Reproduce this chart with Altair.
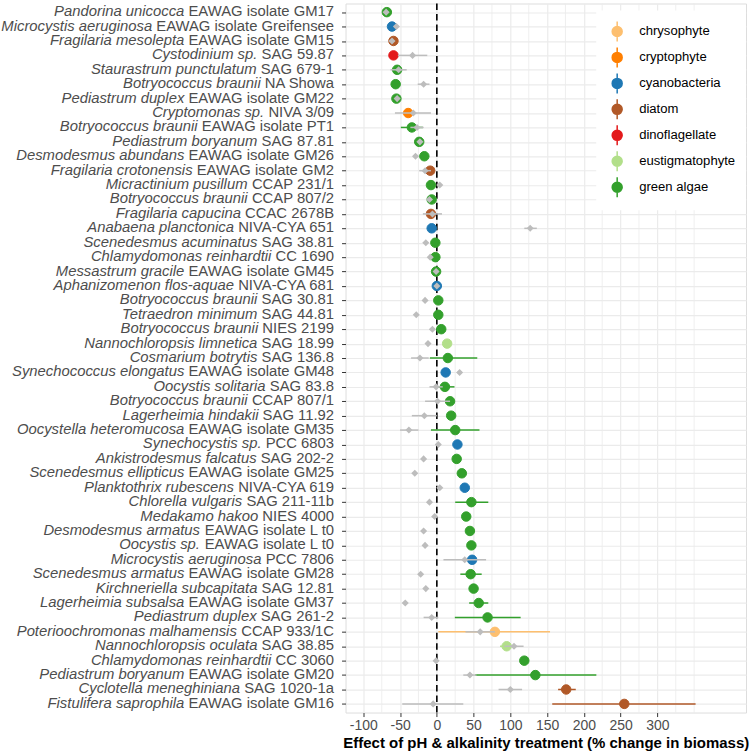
import altair as alt
import pandas as pd

# Strain names: italic species part + strain/collection identifier
species = [
    "Pandorina unicocca", "Microcystis aeruginosa", "Fragilaria mesolepta", "Cystodinium sp.",
    "Staurastrum punctulatum", "Botryococcus braunii", "Pediastrum duplex", "Cryptomonas sp.",
    "Botryococcus braunii", "Pediastrum boryanum", "Desmodesmus abundans", "Fragilaria crotonensis",
    "Micractinium pusillum", "Botryococcus braunii", "Fragilaria capucina", "Anabaena planctonica",
    "Scenedesmus acuminatus", "Chlamydomonas reinhardtii", "Messastrum gracile", "Aphanizomenon flos-aquae",
    "Botryococcus braunii", "Tetraedron minimum", "Botryococcus braunii", "Nannochloropsis limnetica",
    "Cosmarium botrytis", "Synechococcus elongatus", "Oocystis solitaria", "Botryococcus braunii",
    "Lagerheimia hindakii", "Oocystella heteromucosa", "Synechocystis sp.", "Ankistrodesmus falcatus",
    "Scenedesmus ellipticus", "Planktothrix rubescens", "Chlorella vulgaris", "Medakamo hakoo",
    "Desmodesmus armatus", "Oocystis sp.", "Microcystis aeruginosa", "Scenedesmus armatus",
    "Kirchneriella subcapitata", "Lagerheimia subsalsa", "Pediastrum duplex", "Poterioochromonas malhamensis",
    "Nannochloropsis oculata", "Chlamydomonas reinhardtii", "Pediastrum boryanum", "Cyclotella meneghiniana",
    "Fistulifera saprophila",
]
strains = [
    "EAWAG isolate GM17", "EAWAG isolate Greifensee", "EAWAG isolate GM15", "SAG 59.87",
    "SAG 679-1", "NA Showa", "EAWAG isolate GM22", "NIVA 3/09",
    "EAWAG isolate PT1", "SAG 87.81", "EAWAG isolate GM26", "EAWAG isolate GM2",
    "CCAP 231/1", "CCAP 807/2", "CCAC 2678B", "NIVA-CYA 651",
    "SAG 38.81", "CC 1690", "EAWAG isolate GM45", "NIVA-CYA 681",
    "SAG 30.81", "SAG 44.81", "NIES 2199", "SAG 18.99",
    "SAG 136.8", "EAWAG isolate GM48", "SAG 83.8", "CCAP 807/1",
    "SAG 11.92", "EAWAG isolate GM35", "PCC 6803", "SAG 202-2",
    "EAWAG isolate GM25", "NIVA-CYA 619", "SAG 211-11b", "NIES 4000",
    "EAWAG isolate L t0", "EAWAG isolate L t0", "PCC 7806", "EAWAG isolate GM28",
    "SAG 12.81", "EAWAG isolate GM37", "SAG 261-2", "CCAP 933/1C",
    "SAG 38.85", "CC 3060", "EAWAG isolate GM20", "SAG 1020-1a",
    "EAWAG isolate GM16",
]
groups = [
    "green algae", "cyanobacteria", "diatom", "dinoflagellate",
    "green algae", "green algae", "green algae", "cryptophyte",
    "green algae", "green algae", "green algae", "diatom",
    "green algae", "green algae", "diatom", "cyanobacteria",
    "green algae", "green algae", "green algae", "cyanobacteria",
    "green algae", "green algae", "green algae", "eustigmatophyte",
    "green algae", "cyanobacteria", "green algae", "green algae",
    "green algae", "green algae", "cyanobacteria", "green algae",
    "green algae", "cyanobacteria", "green algae", "green algae",
    "green algae", "green algae", "cyanobacteria", "green algae",
    "green algae", "green algae", "green algae", "chrysophyte",
    "eustigmatophyte", "green algae", "green algae", "diatom",
    "diatom",
]

# Treatment effect (% change in biomass) with interval
effect = [-68, -61, -59, -59, -54, -56, -55, -39, -34, -24, -17, -9, -8, -7, -8, -7,
          -2, -2, -1, 0, 2, 2, 6, 14, 15, 12, 11, 18, 19.5, 25, 28, 27,
          34, 38, 47, 40, 45, 47, 48, 46, 50, 57, 69, 79, 95, 119, 134, 176, 255]
effect_lo = [-71, -64, -62, -62, -57, -59, -58, -43, -49, -27, -20, -12, -11, -10, -11, -10,
             -5, -5, -4, -3, -1, -1, 3, 11, -9.5, 9, -2, 15, 16.5, -8, 25, 24,
             31, 35, 25, 37, 42, 44, 45, 32, 47, 44, 24.5, 2, 86, 116, 52, 165, 157]
effect_hi = [-65, -58, -56, -56, -51, -53, -52, -35, -19, -21, -14, -6, -5, -4, -5, -4,
             1, 1, 2, 3, 5, 5, 9, 17, 55, 15, 24, 21, 22.5, 58, 31, 30,
             37, 41, 70, 43, 48, 50, 51, 61, 53, 70, 114, 154, 104, 122, 217, 189, 352]

# Comparison estimate (grey diamonds) with interval
control = [-69, -55, -61, -33, -52, -18, -54, -32, -27, -23, -29, -16, 4, -10, -6, 127,
           -15, -9, -1, 0, -16, -28, -6, -12, -23, 31, -1, 1, -17, -38, 2, -18,
           -30, 4, -10, -3, -18, -16, 38, -22, -15, -43, -7, 59, 105, -1, 45, 100, -5]
control_lo = [-72, -58, -64, -53, -63, -26, -57, -57, -36, -26, -32, -24, 1, -13, -19, 119,
              -18, -12, -4, -3, -19, -31, -9, -15, -35, 28, -10, -16, -34, -50, -1, -21,
              -33, 1, -13, -6, -21, -19, 9, -25, -18, -46, -18, 39, 92, -4, 36, 84, -47]
control_hi = [-66, -52, -58, -13, -41, -10, -51, -8, -18, -20, -26, -8, 7, -7, 7, 136,
              -12, -6, 2, 3, -13, -25, -3, -9, -11, 34, 8, 18, 0, -25, 5, -15,
              -27, 7, -7, 0, -15, -13, 67, -19, -12, -40, 2, 79, 118, 2, 54, 116, 36]

group_names = ["chrysophyte", "cryptophyte", "cyanobacteria", "diatom",
               "dinoflagellate", "eustigmatophyte", "green algae"]
group_colors = ["#FDBF6F", "#FF7F00", "#1F78B4", "#B15928", "#E31A1C", "#B2DF8A", "#33A02C"]

x_major = [-100, -50, 0, 50, 100, 150, 200, 250, 300]
x_minor = [-75, -25, 25, 75, 125, 175, 225, 275, 325, 350]
zero_ref = [0]

FONT = "Liberation Sans"
LABEL_SIZE = 14.85
GREY_TEXT = "#4D4D4D"
GRID = "#EBEBEB"

# Advance widths (1/1000 em) of the Arial-metric sans used for the row labels
_W = {" ": 278, ".": 278, "-": 333, "/": 278}
_W.update({d: 556 for d in "0123456789"})
_W.update(dict(zip("abcdefghijklmnopqrstuvwxyz",
                   [556, 556, 500, 556, 556, 278, 556, 556, 222, 222, 500, 222, 833,
                    556, 556, 556, 556, 333, 500, 278, 556, 500, 722, 500, 500, 500])))
_W.update(dict(zip("ABCDEFGHIJKLMNOPQRSTUVWXYZ",
                   [667, 667, 722, 722, 667, 611, 778, 722, 278, 500, 667, 556, 833,
                    722, 778, 667, 778, 722, 667, 611, 722, 667, 944, 667, 667, 611])))
# a few kerning pairs the browser applies
_KERN = {"AV": -74, "AW": -37, "AY": -74, "VA": -74, "WA": -37, "YA": -74, "11": -74, "A ": -55}


def text_width(s, size):
    units = sum(_W.get(c, 556) for c in s)
    units += sum(_KERN.get(s[i:i + 2], 0) for i in range(len(s) - 1))
    return units * size / 1000.0


LABEL_W = 341
LABEL_RIGHT = 334.5

df = pd.DataFrame({
    "species": species, "strain": strains, "group": groups,
    "eff": effect, "eff_lo": effect_lo, "eff_hi": effect_hi,
    "ctl": control, "ctl_lo": control_lo, "ctl_hi": control_hi,
})
df["label"] = df["species"] + " " + df["strain"]
df["x_st"] = LABEL_RIGHT
df["x_it"] = [LABEL_RIGHT - text_width(" " + s, LABEL_SIZE) for s in strains]
order = list(df["label"])

y_scale = alt.Scale(type="point", padding=0.6)

# ---- left column: mixed italic / upright row labels (clipped to the column) ----
lab_x = alt.Scale(domain=[0, LABEL_W], nice=False, zero=False)
lab_base = alt.Chart(df).encode(y=alt.Y("label:N", sort=order, scale=y_scale, axis=None))
lab_it = lab_base.mark_text(align="right", baseline="middle", font=FONT, fontSize=LABEL_SIZE,
                            fontStyle="italic", color=GREY_TEXT, clip=True).encode(
    x=alt.X("x_it:Q", scale=lab_x, axis=None), text="species:N")
lab_st = lab_base.mark_text(align="right", baseline="middle", font=FONT, fontSize=LABEL_SIZE,
                            color=GREY_TEXT, clip=True).encode(
    x=alt.X("x_st:Q", scale=lab_x, axis=None), text="strain:N")
labels = alt.layer(lab_it, lab_st).properties(
    width=LABEL_W, height=710, view=alt.ViewBackground(stroke=None))

# ---- main panel ----
x_scale = alt.Scale(domain=[-124.2, 420.6], nice=False, zero=False)
x_axis = alt.Axis(values=x_major, title="Effect of pH & alkalinity treatment (% change in biomass)",
                  grid=True, gridColor=GRID, gridWidth=1.2, tickSize=4, tickColor="#333333",
                  labelColor=GREY_TEXT, labelFont=FONT, labelFontSize=14, labelPadding=2,
                  labelExpr="'' + datum.value", labelFlush=False,
                  titleFont=FONT, titleFontSize=15, titleFontWeight="bold", titleColor="black",
                  titlePadding=3, domain=False)
y_enc = alt.Y("label:N", sort=order, scale=y_scale,
              axis=alt.Axis(labels=False, title=None, tickSize=4, tickColor="#333333",
                            grid=True, gridColor=GRID, gridWidth=1.2, domain=False))
color_scale = alt.Scale(domain=group_names, range=group_colors)

key_path = "M0,-1L0,1M0.5,0A0.5,0.5,0,1,1,-0.5,0A0.5,0.5,0,1,1,0.5,0Z"
legend = alt.Legend(title=None, orient="none", legendX=251, legendY=7, fillColor="white",
                    padding=10, symbolType=key_path, symbolSize=400, symbolStrokeWidth=1.5,
                    labelFont=FONT, labelFontSize=13.1, labelColor="black", labelOffset=11,
                    rowPadding=0)

minor_grid = alt.Chart(pd.DataFrame({"v": x_minor})).mark_rule(
    color=GRID, strokeWidth=0.8).encode(x=alt.X("v:Q", scale=x_scale, axis=x_axis))
zero_line = alt.Chart(pd.DataFrame({"v": zero_ref})).mark_rule(
    color="black", strokeDash=[6.5, 4], strokeWidth=1.6).encode(
    x=alt.X("v:Q", scale=x_scale, axis=x_axis))

base = alt.Chart(df)
eff_bars = base.mark_rule(strokeWidth=1.5).encode(
    x=alt.X("eff_lo:Q", scale=x_scale, axis=x_axis), x2="eff_hi:Q", y=y_enc,
    stroke=alt.Stroke("group:N", scale=color_scale, legend=legend))
eff_pts = base.mark_point(filled=True, shape="circle", size=90, strokeWidth=1, opacity=1).encode(
    x=alt.X("eff:Q", scale=x_scale, axis=x_axis), y=y_enc,
    fill=alt.Fill("group:N", scale=color_scale, legend=legend),
    stroke=alt.Stroke("group:N", scale=color_scale, legend=legend))
ctl_bars = base.mark_rule(color="#BDBDBD", strokeWidth=1.5).encode(
    x=alt.X("ctl_lo:Q", scale=x_scale, axis=x_axis), x2="ctl_hi:Q", y=y_enc)
ctl_pts = base.mark_point(filled=True, shape="diamond", size=50, color="#BDBDBD", opacity=1).encode(
    x=alt.X("ctl:Q", scale=x_scale, axis=x_axis), y=y_enc)

main = alt.layer(minor_grid, zero_line, eff_bars, eff_pts, ctl_bars, ctl_pts).properties(
    width=401, height=710)

chart = alt.hconcat(labels, main, spacing=0).resolve_scale(
    fill="independent", stroke="independent"
).resolve_legend(fill="independent", stroke="independent").properties(
    padding={"left": 0, "top": 1, "right": 0, "bottom": 0}
).configure_view(stroke="#333333", strokeWidth=1).configure(background="white")

chart.save("out.html", embed_options={"renderer": "svg", "actions": False})
